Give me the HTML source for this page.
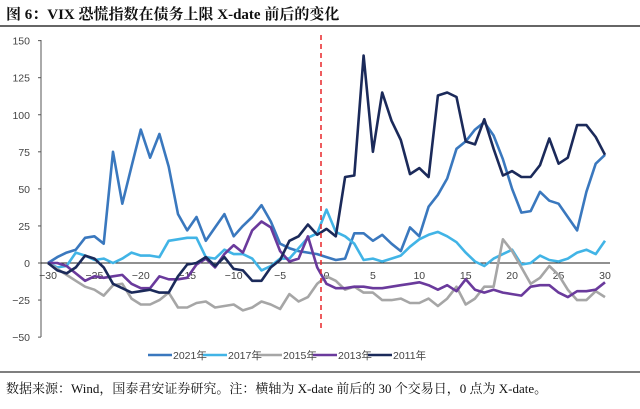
<!DOCTYPE html>
<html><head><meta charset="utf-8"><style>
body{margin:0;width:640px;height:409px;background:#fff;overflow:hidden}
svg{display:block}
</style></head><body>
<svg id="s" width="640" height="409" xmlns="http://www.w3.org/2000/svg" font-family="Liberation Sans, sans-serif">
<text x="6" y="19" font-family="Liberation Serif, Noto Serif CJK SC, serif" font-weight="bold" font-size="15" fill="#111">图 6：VIX 恐慌指数在债务上限 X-date 前后的变化</text>
<line x1="0" y1="26" x2="640" y2="26" stroke="#333" stroke-width="1.5"/>
<g id="axes"></g>
<g id="series" fill="none" stroke-width="2.6" stroke-linejoin="round"></g>
<line x1="321" y1="35" x2="321" y2="328" stroke="#e8262a" stroke-width="1.5" stroke-dasharray="5,4"/>
<g font-size="10.5" fill="#444" font-family="Liberation Sans, Noto Sans CJK SC, sans-serif" transform="translate(24,0)">
<line x1="124" y1="355" x2="148" y2="355" stroke="#3a78be" stroke-width="2.6"/><text x="149" y="359">2021年</text>
<line x1="179" y1="355" x2="203" y2="355" stroke="#41b4e6" stroke-width="2.6"/><text x="204" y="359">2017年</text>
<line x1="234" y1="355" x2="258" y2="355" stroke="#a6a6a6" stroke-width="2.6"/><text x="259" y="359">2015年</text>
<line x1="289" y1="355" x2="313" y2="355" stroke="#6a3a9c" stroke-width="2.6"/><text x="314" y="359">2013年</text>
<line x1="344" y1="355" x2="368" y2="355" stroke="#1b2a5a" stroke-width="2.6"/><text x="369" y="359">2011年</text>
</g>
<line x1="0" y1="372" x2="640" y2="372" stroke="#333" stroke-width="1.2"/>
<text x="6" y="393" font-family="Liberation Serif, Noto Serif CJK SC, serif" font-size="13" fill="#111">数据来源：Wind，国泰君安证券研究。注：横轴为 X-date 前后的 30 个交易日，0 点为 X-date。</text>
</svg>
<script>
var X=function(i){return 48+(i+30)*9.283},Y=function(v){return 263-v*1.4825};
var ax=document.getElementById('axes'),h='';
h+='<line x1="41" y1="40" x2="41" y2="337" stroke="#555" stroke-width="1"/>';
for(var v=-50;v<=150;v+=25){var y=Y(v);h+='<line x1="38" y1="'+y+'" x2="41" y2="'+y+'" stroke="#555"/><text x="30" y="'+(y+4)+'" font-size="10.5" fill="#444" text-anchor="end">'+(v<0?'−'+(-v):v)+'</text>';}
h+='<line x1="41" y1="263" x2="610" y2="263" stroke="#222" stroke-width="1"/>';
for(var i=-30;i<=30;i+=5){h+='<text x="'+X(i)+'" y="279" font-size="10.5" fill="#444" text-anchor="middle">'+(i<0?'−'+(-i):i)+'</text>';}
ax.innerHTML=h;
var D={
"#3a78be":[0,4,7,9,17,18,13,75,40,65,90,71,87,65,33,22,31,15,24,33,18,25,31,39,28,13,10,8,7,6,4,2,3,20,20,15,19,13,8,24,18,38,46,57,77,82,90,95,86,70,50,34,35,48,42,40,31,22,48,67,73],
"#41b4e6":[0,-3,-2,7,5,2,3,0,3,7,5,5,4,15,16,17,17,4,3,9,6,6,3,-5,-2,3,3,10,17,20,36,21,18,13,2,3,1,3,5,11,16,19,21,18,14,7,1,-2,3,6,9,-1,0,5,2,1,3,7,9,6,15],
"#a6a6a6":[0,-4,-8,-12,-16,-18,-22,-15,-14,-24,-28,-28,-25,-20,-30,-30,-27,-26,-30,-29,-28,-32,-30,-26,-28,-31,-21,-26,-23,-14,-9,-12,-18,-16,-20,-20,-25,-25,-24,-27,-27,-24,-29,-24,-16,-28,-24,-16,-16,16,8,-3,-14,-10,-2,-8,-18,-25,-25,-19,-23],
"#6a3a9c":[0,0,-2,-7,-12,-9,-10,-9,-8,-14,-17,-17,-9,-11,-11,-10,-1,3,-3,6,12,7,22,28,24,8,1,3,18,-3,-14,-17,-17,-16,-16,-17,-17,-16,-15,-14,-13,-15,-18,-15,-19,-11,-18,-20,-18,-20,-21,-22,-16,-15,-15,-20,-23,-19,-19,-18,-13],
"#1b2a5a":[0,-5,-7,-3,5,3,-3,-14,-17,-20,-19,-18,-20,-20,-9,-1,0,4,-2,4,-4,-5,-12,-12,-3,2,15,18,26,19,23,18,58,59,140,75,115,96,83,60,64,58,113,115,112,82,80,97,77,59,62,58,58,66,84,67,71,93,93,85,73]};
var s='';for(var c in D){var p=D[c].map(function(v,k){return X(k-30).toFixed(1)+','+Y(v).toFixed(1)}).join(' ');s+='<polyline stroke="'+c+'" points="'+p+'"/>';}
document.getElementById('series').innerHTML=s;
</script>
</body></html>
